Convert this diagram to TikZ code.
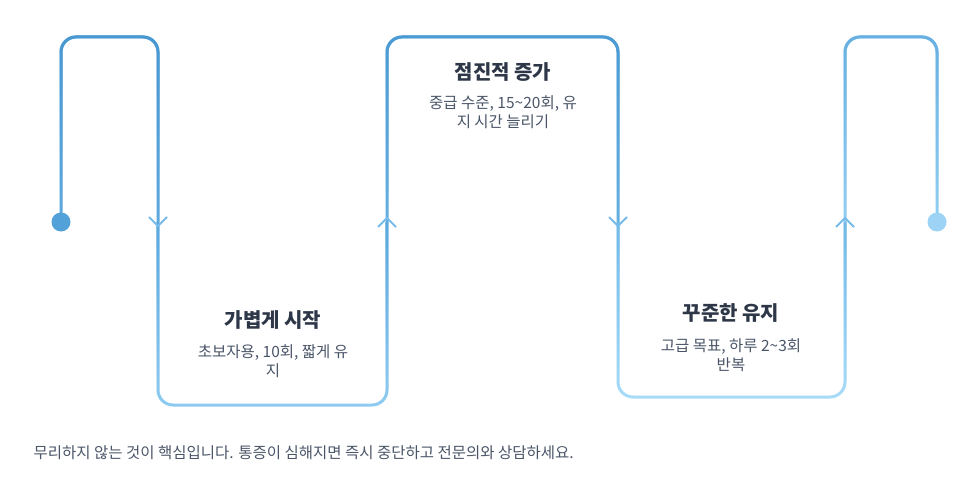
\documentclass[tikz,border=0pt]{standalone}
\usepackage{fontspec}
\setmainfont{Noto Sans CJK KR}
\usetikzlibrary{fadings}
\tikzfading[name=fadedown, top color=transparent!0, bottom color=transparent!100]
\definecolor{lineA}{HTML}{4A98D2}
\definecolor{lineAl}{HTML}{5EA9DE}
\definecolor{lineB}{HTML}{5BA7DD}
\definecolor{lineBl}{HTML}{8FCBF1}
\definecolor{lineC}{HTML}{4C9BD4}
\definecolor{lineCl}{HTML}{66B0E1}
\definecolor{lineD}{HTML}{71B9E8}
\definecolor{lineDl}{HTML}{A8DCF8}
\definecolor{lineE}{HTML}{68B0E2}
\definecolor{lineEl}{HTML}{92CFF3}
\definecolor{dotstart}{HTML}{52A1D8}
\definecolor{dotend}{HTML}{9DD3F5}
\definecolor{arrowblue}{HTML}{76BBE9}
\definecolor{titlegray}{HTML}{2D3748}
\definecolor{descgray}{HTML}{4A5568}
\tikzset{
  flow/.style={line width=3pt, rounded corners=15pt},
  chevron/.style={line width=2pt, draw=arrowblue},
  dotmark/.style={circle, inner sep=0pt, minimum size=19pt},
  steptitle/.style={font=\bfseries\fontsize{20}{24}\selectfont, text=titlegray},
  stepdesc/.style={font=\fontsize{15.5}{19}\selectfont, text=descgray, align=center},
}
\begin{document}
\begin{tikzpicture}[x=1pt,y=-1pt]
	\useasboundingbox (0,0) rectangle (972,500);
	% corners of the path
	\coordinate (s) at (61,222);
	\coordinate (a1) at (158,222);
	\coordinate (a2) at (387,222);
	\coordinate (a3) at (618,222);
	\coordinate (a4) at (845,222);
	\coordinate (e) at (937,222);
	% segments
	\draw[flow, lineAl] (s) -- (61,37) -- (158,37) -- (a1);
	\draw[flow, lineA, path fading=fadedown] (s) -- (61,37) -- (158,37) -- (a1);
	\draw[flow, lineBl] (a1) -- (158,405) -- (387,405) -- (a2);
	\draw[flow, lineB, path fading=fadedown] (a1) -- (158,405) -- (387,405) -- (a2);
	\draw[flow, lineCl] (a2) -- (387,37) -- (618,37) -- (a3);
	\draw[flow, lineC, path fading=fadedown] (a2) -- (387,37) -- (618,37) -- (a3);
	\draw[flow, lineDl] (a3) -- (618,397) -- (845,397) -- (a4);
	\draw[flow, lineD, path fading=fadedown] (a3) -- (618,397) -- (845,397) -- (a4);
	\draw[flow, lineEl] (a4) -- (845,37) -- (937,37) -- (e);
	\draw[flow, lineE, path fading=fadedown] (a4) -- (845,37) -- (937,37) -- (e);
	% arrows
	\draw[chevron] ([shift={(-9,-5)}]a1) -- ([shift={(0,4)}]a1) -- ([shift={(9,-5)}]a1);
	\draw[chevron] ([shift={(-9,5)}]a2) -- ([shift={(0,-4)}]a2) -- ([shift={(9,5)}]a2);
	\draw[chevron] ([shift={(-9,-5)}]a3) -- ([shift={(0,4)}]a3) -- ([shift={(9,-5)}]a3);
	\draw[chevron] ([shift={(-9,5)}]a4) -- ([shift={(0,-4)}]a4) -- ([shift={(9,5)}]a4);
	% end dots
	\node[dotmark, fill=dotstart] (startdot) at (s) {};
	\node[dotmark, fill=dotend] (enddot) at (e) {};
	% labels
	\node[steptitle] (t1) at (273,320) {가볍게 시작};
	\node[stepdesc] (d1) at (273,361) {초보자용, 10회, 짧게 유\\지};
	\node[steptitle] (t2) at (503,72) {점진적 증가};
	\node[stepdesc] (d2) at (503,112) {중급 수준, 15\textasciitilde 20회, 유\\지 시간 늘리기};
	\node[steptitle] (t3) at (731,313) {꾸준한 유지};
	\node[stepdesc] (d3) at (731,355) {고급 목표, 하루 2\textasciitilde 3회\\반복};
	\node[anchor=west, font=\fontsize{15.5}{17}\selectfont, text=descgray] (note) at (30,453) {무리하지 않는 것이 핵심입니다. 통증이 심해지면 즉시 중단하고 전문의와 상담하세요.};
\end{tikzpicture}
\end{document}
